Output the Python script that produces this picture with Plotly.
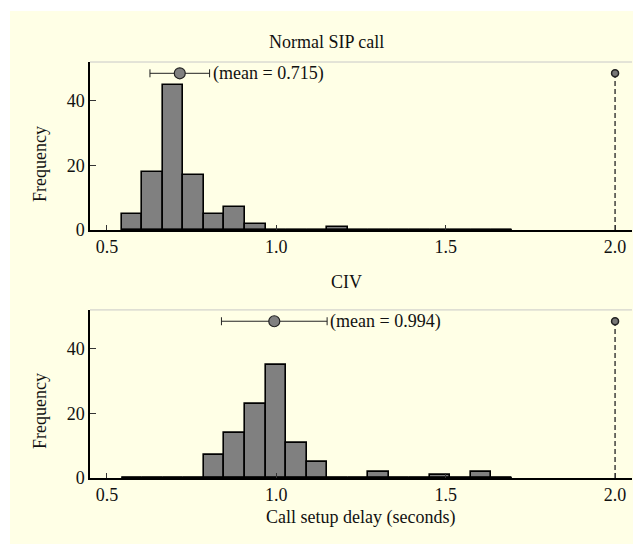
import plotly.graph_objects as go

# ---- data ----
bin_start = 0.544
bin_width = 0.0606
n_bins = 19
normal_counts = [5, 18, 45, 17, 5, 7, 2, 0, 0, 0, 1, 0, 0, 0, 0, 0, 0, 0, 0]
civ_counts = [0, 0, 0, 0, 7, 14, 23, 35, 11, 5, 0, 0, 2, 0, 0, 1, 0, 2, 0]
normal_mean, normal_err = 0.715, 0.088
civ_mean, civ_err = 0.994, 0.156
mean_y = 48.5
outlier_x = 2.0
x_ticks = [0.5, 1.0, 1.5, 2.0]
x_tick_text = ["0.5", "1.0", "1.5", "2.0"]
y_ticks = [0, 20, 40]
titles = ["Normal SIP call", "CIV"]

centers = [bin_start + bin_width * (i + 0.5) for i in range(n_bins)]
edges = [bin_start, bin_start + bin_width * n_bins]

FONT = "Liberation Serif, Times New Roman, serif"
TXT = "#111111"
BAR = "#808080"

fig = go.Figure()

panels = [
    (normal_counts, normal_mean, normal_err, "x", "y"),
    (civ_counts, civ_mean, civ_err, "x2", "y2"),
]
for counts, mean, err, xa, ya in panels:
    fig.add_trace(go.Scatter(x=edges, y=[0, 0], mode="lines",
                             line=dict(color="black", width=2.5),
                             xaxis=xa, yaxis=ya, showlegend=False, hoverinfo="skip"))
    fig.add_trace(go.Bar(x=centers, y=counts, width=bin_width,
                         marker=dict(color=BAR, line=dict(color="black", width=1.6)),
                         xaxis=xa, yaxis=ya, showlegend=False))
    fig.add_trace(go.Scatter(x=[outlier_x, outlier_x], y=[0, mean_y], mode="lines",
                             line=dict(color="#222", width=1.3, dash="5px,3px"),
                             xaxis=xa, yaxis=ya, showlegend=False))
    fig.add_trace(go.Scatter(x=[outlier_x], y=[mean_y], mode="markers",
                             marker=dict(color="#777", size=7, line=dict(color="#222", width=1.5)),
                             xaxis=xa, yaxis=ya, showlegend=False))
    fig.add_trace(go.Scatter(x=[mean], y=[mean_y], mode="markers",
                             error_x=dict(type="constant", value=err, color="#222",
                                          thickness=1, width=4),
                             marker=dict(color="#808080", size=11, line=dict(color="#222", width=1.2)),
                             xaxis=xa, yaxis=ya, showlegend=False))
    fig.add_annotation(x=mean + err, y=mean_y, xref=xa, yref=ya, xanchor="left",
                       yanchor="middle", xshift=1, showarrow=False,
                       text="(mean = %.3f)" % mean, font=dict(family=FONT, size=18, color=TXT))

xcommon = dict(range=[0.45, 2.05], tickvals=x_ticks, ticktext=x_tick_text,
               ticks="inside", ticklen=5, tickwidth=1.2, tickcolor="#333",
               showline=True, linecolor="black", linewidth=1.5, showgrid=False,
               zeroline=False, tickfont=dict(family=FONT, size=18, color=TXT))
ycommon = dict(range=[0, 52], tickvals=y_ticks, ticks="inside", ticklen=6, tickwidth=1.2,
               tickcolor="#333", showline=True, linecolor="black", linewidth=1.5,
               showgrid=False, zeroline=False,
               tickfont=dict(family=FONT, size=18, color=TXT))

fig.update_layout(
    width=633, height=544,
    margin=dict(l=90, r=1, t=62, b=66),
    paper_bgcolor="white", plot_bgcolor="white",
    bargap=0,
    xaxis=dict(**xcommon, anchor="y", domain=[0, 1]),
    yaxis=dict(**ycommon, anchor="x", domain=[0.596, 1.0]),
    xaxis2=dict(**xcommon, anchor="y2", domain=[0, 1]),
    yaxis2=dict(**ycommon, anchor="x2", domain=[0.0, 0.404]),
)

# light yellow panel background
fig.add_shape(type="rect", xref="paper", yref="paper", layer="below",
              x0=(10 - 90) / 542, x1=1.01, y0=(478 - 545) / 416, y1=(478 - 11) / 416,
              fillcolor="#FFFFE6", line=dict(width=0))
# light gray top borders
for xr, yr in [("x domain", "y domain"), ("x2 domain", "y2 domain")]:
    fig.add_shape(type="line", xref=xr, yref=yr, x0=0, x1=1, y0=1, y1=1,
                  line=dict(color="#c8c8c8", width=1))

# titles
fig.add_annotation(x=(326 - 90) / 542, y=(478 - 42) / 416, xref="paper", yref="paper",
                   text=titles[0], showarrow=False, xanchor="center", yanchor="middle",
                   font=dict(family=FONT, size=18, color=TXT))
fig.add_annotation(x=(346 - 90) / 542, y=(478 - 282) / 416, xref="paper", yref="paper",
                   text=titles[1], showarrow=False, xanchor="center", yanchor="middle",
                   font=dict(family=FONT, size=18, color=TXT))
# y titles
for yc in [(478 - 164) / 416, (478 - 411) / 416]:
    fig.add_annotation(x=(40 - 90) / 542, y=yc, xref="paper", yref="paper",
                       text="Frequency", textangle=-90, showarrow=False,
                       xanchor="center", yanchor="middle",
                       font=dict(family=FONT, size=18, color=TXT))
# x title
fig.add_annotation(x=(360 - 90) / 542, y=(478 - 517) / 416, xref="paper", yref="paper",
                   text="Call setup delay (seconds)", showarrow=False,
                   xanchor="center", yanchor="middle",
                   font=dict(family=FONT, size=18, color=TXT))

fig.write_html("out.html", config={"displayModeBar": False},
               post_script="document.body.style.margin='0';document.body.style.overflow='hidden';")
